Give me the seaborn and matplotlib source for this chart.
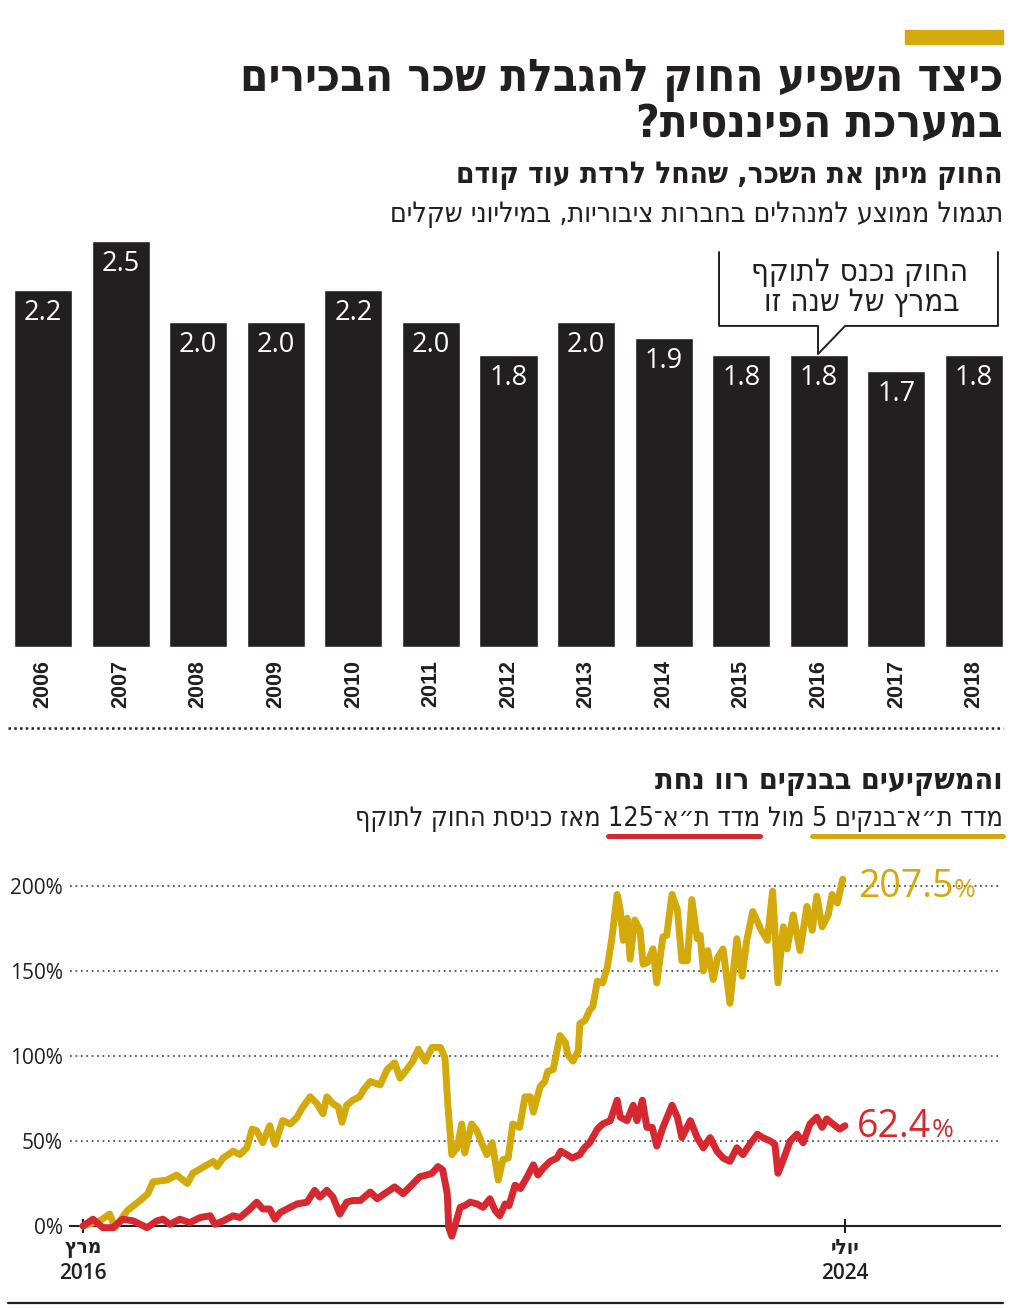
import re
import seaborn as sns
import matplotlib.pyplot as plt
from matplotlib.lines import Line2D
from matplotlib.patches import Rectangle

sns.set_theme(style="white")
plt.rcParams['font.family'] = ['DejaVu Sans']

INK = '#231f20'
GOLD = '#d4a90c'
RED = '#d7282f'
HEB = dict(family=['DejaVu Sans'], fontstretch='condensed')
NUM = ['Open Sans', 'DejaVu Sans']

# average pay of managers in public companies, millions of shekels
years = [str(y) for y in range(2006, 2019)]
pay = [2.2, 2.5, 2.0, 2.0, 2.2, 2.0, 1.8, 2.0, 1.9, 1.8, 1.8, 1.7, 1.8]

# TA-Banks5 vs TA-125, % change; x = months since March 2016
banks_t = [0, 2.2, 3.5, 4.2, 5.8, 7.5, 8.5, 9.2, 11.0, 12.3, 13.7, 14.4, 16.3, 17.1, 17.6,
           18.4, 19.7, 20.6, 21.5, 22.2, 22.8, 23.6, 24.5, 25.2, 26.2, 27.2, 28.1, 28.7,
           29.8, 30.7, 31.5, 32.0, 32.8, 33.5, 34.0, 34.6, 35.4, 36.3, 36.8, 37.7, 39.0,
           39.9, 40.9, 41.6, 42.5, 43.3, 44.0, 44.9, 45.8, 46.9, 47.5, 47.9, 48.4, 49.1,
           49.7, 50.1, 51.0, 51.7, 52.4, 53.0, 53.7, 54.5, 55.1, 55.8, 56.4, 57.3, 58.0,
           58.7, 59.1, 60.0, 60.6, 61.0, 61.7, 62.6, 63.3, 63.6, 64.3, 65.0, 65.2, 65.9,
           66.5, 66.9, 67.5, 68.2, 68.8, 69.4, 70.1, 70.5, 70.9, 71.4, 71.8, 72.4, 73.1,
           73.5, 74.1, 74.8, 75.3, 76.1, 76.6, 77.3, 78.0, 78.6, 79.3, 79.9, 80.6, 81.0,
           81.4, 82.0, 82.7, 83.3, 84.0, 84.9, 85.8, 86.5, 87.1, 87.9, 88.9, 89.8, 90.5,
           91.2, 91.9, 92.4, 93.2, 94.1, 95.0, 95.7, 96.3, 97.0, 97.8, 98.3, 99.0, 99.7]
banks_v = [0, 3, 7, -1, 9, 15, 19, 26, 27, 30, 25, 31, 36, 38, 35,
           40, 44, 42, 46, 57, 56, 49, 59, 48, 62, 60, 64, 69,
           76, 72, 66, 76, 72, 70, 61, 71, 74, 76, 80, 85, 83,
           92, 96, 87, 92, 97, 104, 97, 105, 105, 99, 70, 42, 46,
           60, 43, 60, 56, 48, 42, 49, 27, 39, 40, 60, 58, 76,
           76, 67, 82, 85, 91, 92, 112, 108, 101, 97, 103, 119, 121,
           127, 129, 144, 143, 152, 169, 195, 186, 168, 181, 157, 180, 174,
           154, 155, 163, 143, 170, 171, 195, 186, 156, 156, 192, 169, 171,
           150, 162, 145, 158, 163, 131, 169, 147, 168, 185, 175, 168, 197,
           143, 176, 163, 183, 162, 188, 174, 194, 176, 183, 195, 190, 204]
ta125_t = [0, 1.3, 2.6, 3.9, 5.2, 6.6, 8.4, 9.7, 10.5, 11.4, 12.7, 14.0, 15.4, 16.7, 17.3,
           18.4, 19.7, 20.6, 21.9, 22.8, 23.6, 24.5, 25.2, 25.9, 27.2, 28.1, 29.4, 30.4,
           31.1, 32.0, 32.8, 33.7, 34.6, 35.4, 36.4, 37.7, 38.6, 39.9, 40.9, 42.0, 42.9,
           44.2, 45.1, 45.8, 46.6, 47.2, 47.8, 48.0, 48.4, 49.0, 49.5, 50.1, 50.8, 51.7,
           52.5, 53.4, 54.1, 54.7, 55.4, 55.9, 56.7, 57.4, 58.3, 59.1, 59.7, 60.4, 61.3,
           62.2, 62.7, 63.5, 64.2, 65.2, 65.8, 66.5, 67.5, 68.2, 69.2, 70.1, 70.5, 71.4,
           72.2, 72.7, 73.4, 74.0, 74.7, 75.3, 76.1, 77.3, 78.0, 78.6, 79.7, 80.6, 81.4,
           82.3, 83.2, 84.0, 84.9, 85.8, 86.6, 87.5, 88.5, 89.2, 90.2, 90.8, 91.2, 91.9,
           92.8, 93.7, 94.5, 95.4, 96.3, 97.0, 97.6, 98.4, 99.3, 100.0]
ta125_v = [0, 4, -1, -1, 4, 3, -1, 3, 4, 1, 4, 2, 5, 6, 1,
           3, 6, 5, 10, 14, 10, 10, 4, 8, 11, 13, 14, 21,
           17, 21, 17, 7, 14, 15, 15, 20, 16, 20, 23, 19, 23,
           29, 30, 31, 35, 33, 19, -1, -6, 3, 11, 12, 14, 13,
           11, 16, 9, 6, 13, 12, 24, 22, 29, 36, 30, 34, 38,
           40, 44, 42, 40, 42, 46, 49, 57, 60, 62, 74, 64, 62,
           71, 62, 74, 58, 58, 47, 58, 71, 64, 52, 62, 52, 46,
           52, 44, 40, 38, 46, 42, 48, 54, 52, 50, 48, 31, 39,
           50, 54, 49, 60, 64, 58, 63, 60, 57, 59]


def rtl(s):
    # matplotlib lays text left to right: reverse Hebrew, keep number runs
    s = s[::-1]
    return re.sub(r'[0-9.%]+', lambda m: m.group(0)[::-1], s)


W, H = 1024, 1308
fig = plt.figure(figsize=(W / 100, H / 100), dpi=100)
fig.patch.set_facecolor('white')
renderer = fig.canvas.get_renderer()


def fx(px):
    return px / W


def fy(py):
    return 1 - py / H


def htext(x, y, s, size, width=None, ha='right', **kw):
    t = fig.text(fx(x), fy(y), rtl(s), ha=ha, va='baseline', fontsize=size,
                 color=INK, **HEB, **kw)
    if width:
        w = t.get_window_extent(renderer).width
        t.set_fontsize(size * width / w)
    return t


# headline
fig.add_artist(Rectangle((fx(905), fy(44)), 98 / W, 14 / H, color=GOLD,
                         transform=fig.transFigure))
t1 = htext(1003, 91, 'כיצד השפיע החוק להגבלת שכר הבכירים', 30, width=762, fontweight='bold')
htext(1003, 137, 'במערכת הפיננסית?', t1.get_fontsize(), fontweight='bold')
htext(1003, 183, 'החוק מיתן את השכר, שהחל לרדת עוד קודם', 24, width=548, fontweight='bold')
htext(1003, 222, 'תגמול ממוצע למנהלים בחברות ציבוריות, במיליוני שקלים', 20, width=611)

# bar chart
ax1 = fig.add_axes([fx(14), fy(647), (1003 - 14) / W, (647 - 241) / H])
ax1.set_facecolor('none')
sns.barplot(x=years, y=pay, color=INK, saturation=1, width=0.75, ax=ax1)
ax1.set_xlim(-0.375, 12.375)
ax1.set_ylim(0, 2.5)
sns.despine(ax=ax1, left=True, bottom=True)
ax1.set_yticks([])
ax1.set_xlabel('')
ax1.set_ylabel('')
ax1.tick_params(axis='x', length=0, pad=9.4, labelrotation=90, labelsize=15.5,
                labelcolor=INK)
for lab in ax1.get_xticklabels():
    lab.set_family(['Liberation Sans', 'DejaVu Sans'])
    lab.set_fontweight('bold')
for i, v in enumerate(pay):
    ax1.annotate(f'{v:.1f}', (i, v), xytext=(0, -16.5), textcoords='offset points',
                 ha='center', va='center', color='white', fontsize=19.5, family=NUM)

# callout for 2016
ax1.plot([8.714, 8.714, 9.99, 9.99, 10.34, 12.31, 12.31],
         [2.432, 1.977, 1.977, 1.804, 1.977, 1.977, 2.432],
         color=INK, lw=1.4, clip_on=False)
b1 = htext(860, 281, 'החוק נכנס לתוקף', 19, width=217, ha='center')
htext(862, 311, 'במרץ של שנה זו', b1.get_fontsize(), ha='center')

fig.add_artist(Line2D([fx(8), fx(1003)], [fy(728)] * 2, color=INK, lw=1.8,
                      ls=(0, (1, 1.3))))

# second section headings
htext(1003, 789, 'והמשקיעים בבנקים רוו נחת', 22, width=346, fontweight='bold')
segs = ['מדד ת״א־בנקים 5', 'מול', 'מדד ת״א־125', 'מאז כניסת החוק לתוקף']
full = htext(1003, 826, ' '.join(segs), 20, width=648)
size = full.get_fontsize()
full_w = full.get_window_extent(renderer).width
full.remove()
parts = []
for s in segs:
    t = htext(1003, 826, s, size)
    parts.append(t)
widths = [t.get_window_extent(renderer).width for t in parts]
gap = (full_w - sum(widths)) / 3
x = 1003
for i, (t, w) in enumerate(zip(parts, widths)):
    t.set_x(fx(x))
    if i in (0, 2):
        fig.add_artist(Line2D([fx(x - w), fx(x)], [fy(836)] * 2,
                              color=GOLD if i == 0 else RED, lw=3.6,
                              solid_capstyle='round'))
    x -= w + gap

# line chart
ax2 = fig.add_axes([fx(70), fy(1245), 930 / W, 375 / H])
ax2.set_facecolor('none')
for v in [50, 100, 150, 200]:
    ax2.axhline(v, color='#555555', lw=1.3, ls=(0, (1, 2)), zorder=1)
sns.lineplot(x=banks_t, y=banks_v, color=GOLD, lw=5, estimator=None, ax=ax2, zorder=3)
sns.lineplot(x=ta125_t, y=ta125_v, color=RED, lw=5, estimator=None, ax=ax2, zorder=4)
for ln in ax2.lines[4:]:
    ln.set_solid_joinstyle('round')
    ln.set_solid_capstyle('round')
ax2.set_xlim(-1.706, 120.34)
ax2.set_ylim(-11.18, 209.41)
for side in ['top', 'right', 'left']:
    ax2.spines[side].set_visible(False)
ax2.spines['bottom'].set_position(('data', 0))
ax2.spines['bottom'].set_color(INK)
ax2.spines['bottom'].set_linewidth(1.5)
ax2.set_xticks([0, 100])
ax2.set_xticklabels([])
ax2.tick_params(axis='x', bottom=True, direction='inout', length=10, width=1.5, color=INK)
ax2.set_yticks([0, 50, 100, 150, 200])
ax2.set_yticklabels([f'{v}%' for v in [0, 50, 100, 150, 200]])
ax2.tick_params(axis='y', left=False, length=0, pad=5, labelsize=15, labelcolor=INK)
for lab in ax2.get_yticklabels():
    lab.set_family(NUM)
ax2.set_xlabel('')
ax2.set_ylabel('')

for t, mon, yr in zip([0, 100], ['מרץ', 'יולי'], ['2016', '2024']):
    ax2.annotate(rtl(mon), (t, 0), xytext=(0, -8.6), textcoords='offset points',
                 ha='center', va='top', fontsize=15, fontweight='bold', color=INK, **HEB)
    ax2.annotate(yr, (t, 0), xytext=(0, -26.6), textcoords='offset points',
                 ha='center', va='top', fontsize=15, fontweight='semibold', color=INK,
                 family=NUM)


def end_label(t, v, text, color, dx, dy):
    a = ax2.annotate(text, (t, v), xytext=(dx, dy), textcoords='offset points',
                     ha='left', va='baseline', color=color, fontsize=27, family=NUM,
                     fontweight='medium')
    w = a.get_window_extent(renderer).width * 72 / 100
    ax2.annotate('%', (t, v), xytext=(dx + w + 0.5, dy), textcoords='offset points',
                 ha='left', va='baseline', color=color, fontsize=19, family=NUM)


end_label(banks_t[-1], banks_v[-1], '207.5', GOLD, 10.8, -13)
end_label(ta125_t[-1], ta125_v[-1], '62.4', RED, 8.6, -7.9)

fig.add_artist(Line2D([fx(8), fx(1003)], [fy(1303)] * 2, color=INK, lw=1.6))

fig.savefig('out.png', dpi=100, facecolor='white')
